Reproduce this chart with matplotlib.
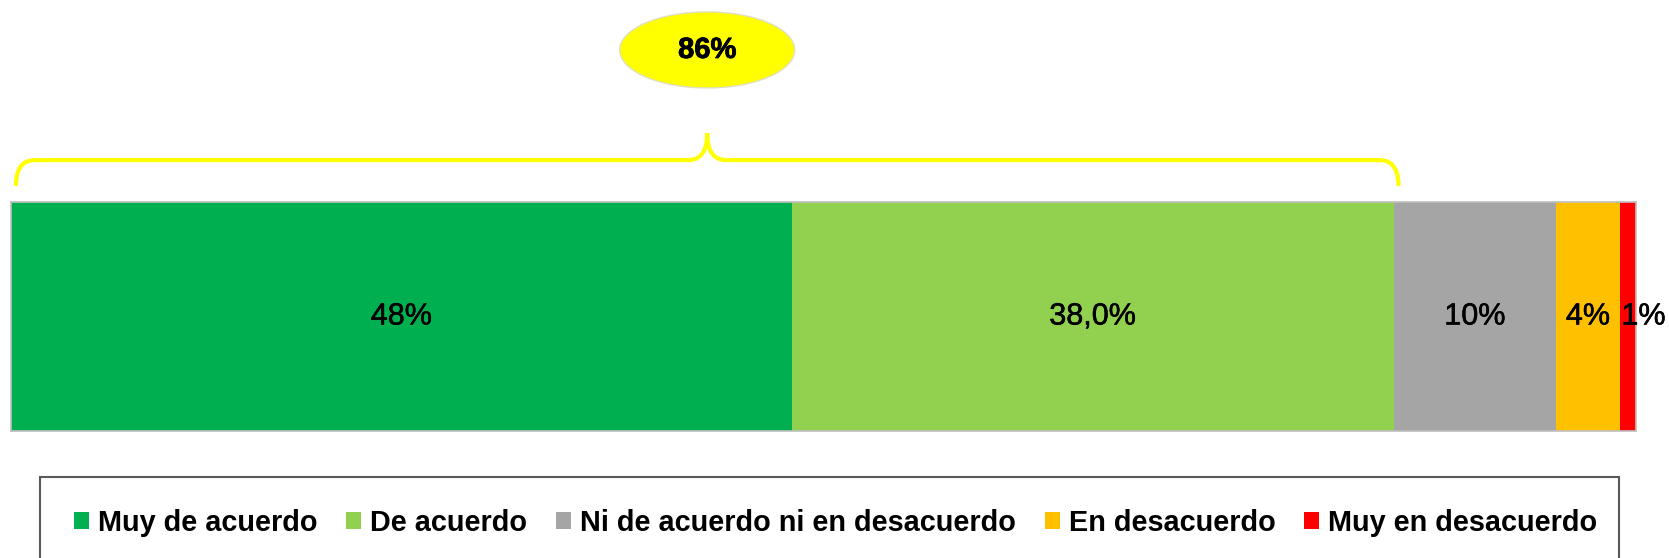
import numpy as np
import matplotlib
matplotlib.use('Agg')
import matplotlib.pyplot as plt
from matplotlib.patches import Ellipse, Rectangle, PathPatch
from matplotlib.path import Path
import matplotlib.transforms as mtransforms
import matplotlib.patheffects as pe

plt.rcParams['font.family'] = ['Liberation Sans', 'DejaVu Sans']

# Data
categories = ['Muy de acuerdo', 'De acuerdo', 'Ni de acuerdo ni en desacuerdo',
              'En desacuerdo', 'Muy en desacuerdo']
values = [48.0, 37.0, 10.0, 3.9, 1.0]
value_labels = ['48%', '38,0%', '10%', '4%', '1%']
colors = ['#00B050', '#92D050', '#A5A5A5', '#FFC000', '#FF0000']
agree_total = '86%'

fig = plt.figure(figsize=(16.69, 5.58), dpi=100)
ax = fig.add_axes([11/1669, 1 - 431/558, 1625/1669, 229/558])

# slightly heavier strokes for the value labels
heavy = [pe.withStroke(linewidth=0.4, foreground='black')]

left = 0
for cat, val, lab, col in zip(categories, values, value_labels, colors):
    ax.barh(0, val, left=left, height=1.0, color=col, label=cat, edgecolor='none')
    if lab == '1%':
        # last label sits past the thin red segment
        ax.text(left + 0.1, 0, lab, ha='left', va='center', fontsize=22,
                clip_on=False, path_effects=heavy)
    else:
        ax.text(left + val / 2, 0, lab, ha='center', va='center', fontsize=22,
                path_effects=heavy)
    left += val

ax.set_xlim(0, sum(values))
ax.set_ylim(-0.5, 0.5)
ax.set_xticks([])
ax.set_yticks([])
for s in ax.spines.values():
    s.set_color('#BFBFBF')
    s.set_linewidth(1.2)

# brace over the "agree" categories
trans = mtransforms.blended_transform_factory(ax.transData, ax.transAxes)
x0 = 0.3
x1 = values[0] + values[1] + 0.3
xm = (x0 + x1) / 2
dx = 1.17
y_end, y_h, y_tip = 1.07, 1.183, 1.30
verts = [(x0, y_end), (x0, y_h), (x0 + dx, y_h),
         (xm - dx, y_h), (xm, y_h), (xm, y_tip),
         (xm, y_h), (xm + dx, y_h),
         (x1 - dx, y_h), (x1, y_h), (x1, y_end)]
codes = [Path.MOVETO, Path.CURVE3, Path.CURVE3,
         Path.LINETO, Path.CURVE3, Path.CURVE3,
         Path.CURVE3, Path.CURVE3,
         Path.LINETO, Path.CURVE3, Path.CURVE3]
brace = PathPatch(Path(verts, codes), transform=trans, facecolor='none',
                  edgecolor='#FFFF00', lw=3, clip_on=False, capstyle='butt')
ax.add_patch(brace)

ell = Ellipse((xm, 1.664), 10.76, 0.332, transform=trans, facecolor='#FFFF00',
              edgecolor='#E0E0C0', lw=1, clip_on=False)
ax.add_patch(ell)
ax.text(xm, 1.664, agree_total, transform=trans, ha='center', va='center',
        fontsize=21, fontweight='bold', clip_on=False,
        path_effects=[pe.withStroke(linewidth=0.6, foreground='black')])

# legend box
box = Rectangle((40/1669, -0.2), 1579/1669, 0.2 + (558 - 477)/558,
                transform=fig.transFigure, facecolor='white',
                edgecolor='#595959', lw=1.5)
fig.patches.append(box)
fig.legend(loc='center', bbox_to_anchor=(0.5006, (558 - 523)/558), ncol=5,
           frameon=False, prop={'weight': 'bold', 'size': 20.8},
           handlelength=0.52, handleheight=0.52, handletextpad=0.31,
           columnspacing=1.0, borderpad=0)

fig.savefig('out.png', dpi=100)
